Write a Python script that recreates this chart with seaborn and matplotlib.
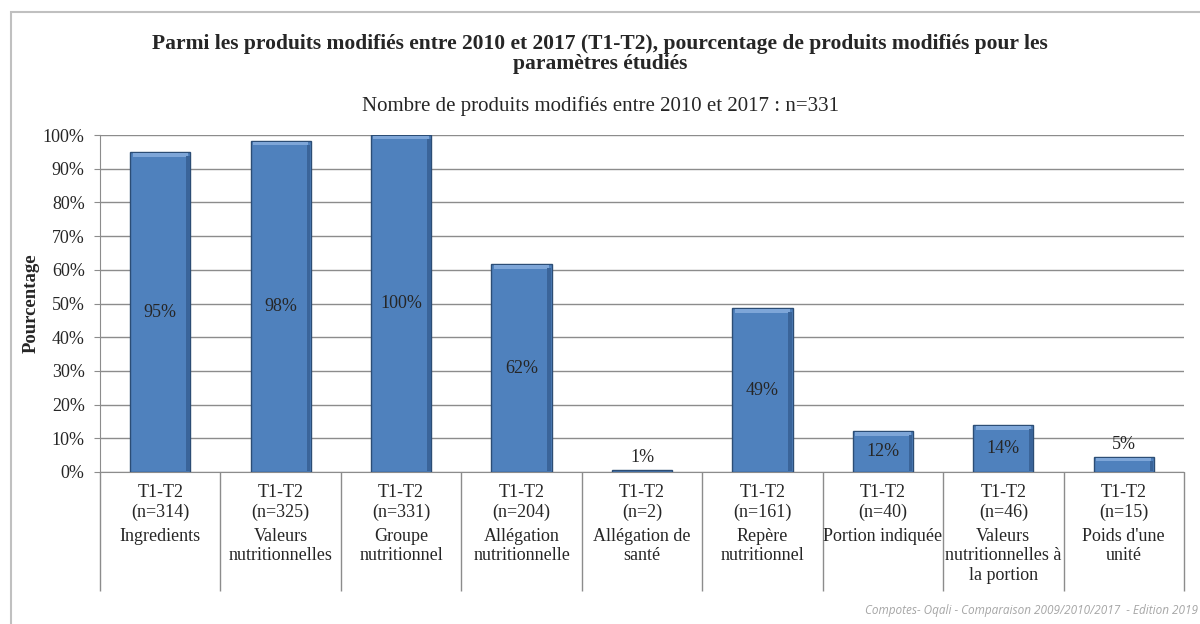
import numpy as np
import pandas as pd
import matplotlib
matplotlib.use('Agg')
import matplotlib.pyplot as plt
from matplotlib.patches import Rectangle
import seaborn as sns

# Data
categories = ['Ingredients', 'Valeurs\nnutritionnelles', 'Groupe\nnutritionnel',
              'Allégation\nnutritionnelle', 'Allégation de\nsanté', 'Repère\nnutritionnel',
              'Portion indiquée', 'Valeurs\nnutritionnelles à\nla portion', "Poids d'une\nunité"]
counts = [314, 325, 331, 204, 2, 161, 40, 46, 15]
pct = [94.9, 98.2, 100.0, 61.6, 0.6, 48.6, 12.1, 13.9, 4.5]
pct_labels = ['95%', '98%', '100%', '62%', '1%', '49%', '12%', '14%', '5%']

sns.set_style('white')
plt.rcParams['font.family'] = ['Liberation Serif', 'DejaVu Serif']

df = pd.DataFrame({'cat': categories, 'pct': pct})

fig = plt.figure(figsize=(12, 6.24), dpi=100)
ax = fig.add_axes([100 / 1200, 1 - 472 / 624, 1084 / 1200, 337 / 624])

# outer chart frame
fig.patches.append(Rectangle((11 / 1200, -0.01), 1.0, 1 - 12 / 624 + 0.01,
                             transform=fig.transFigure, fill=False,
                             edgecolor='#c0c0c0', linewidth=1.5))

sns.barplot(data=df, x='cat', y='pct', color='#4f81bd', width=0.5,
            edgecolor='#2c4d75', linewidth=1.0, saturation=1, ax=ax, zorder=3)

# bevel effect: light top band, darker right side
for p in ax.patches:
    h = p.get_height()
    x0, w = p.get_x(), p.get_width()
    if h > 1.5:
        ax.add_patch(Rectangle((x0 + 0.02, h - 1.3), w - 0.04, 1.1,
                               color='#7ea6d8', zorder=4, linewidth=0))
        ax.add_patch(Rectangle((x0 + w - 0.035, 0.3), 0.03, h - 1.5,
                               color='#3a6499', zorder=4, linewidth=0))

ax.set_ylim(0, 100)
ax.set_xlim(-0.5, len(categories) - 0.5)
ax.set_yticks(np.arange(0, 101, 10))
ax.set_yticklabels([f'{v}%' for v in range(0, 101, 10)], fontsize=13)
ax.yaxis.grid(True, color='#8c8c8c', linewidth=1, zorder=0)
ax.set_axisbelow(True)
for s in ['top', 'right']:
    ax.spines[s].set_visible(False)
for s in ['left', 'bottom']:
    ax.spines[s].set_color('#8c8c8c')
ax.tick_params(axis='y', length=4, color='#8c8c8c', left=True, pad=7)

# category separators as long minor ticks
ax.set_xticks([])
ax.set_xticks(np.arange(-0.5, len(categories), 1.0), minor=True)
ax.tick_params(axis='x', which='minor', length=86, color='#8c8c8c', width=1, bottom=True)
ax.set_xlabel('')
ax.set_ylabel('Pourcentage', fontsize=13.5, fontweight='bold')
ax.yaxis.set_label_coords(-0.056, 0.5)

trans = ax.get_xaxis_transform()
for i, (c, n) in enumerate(zip(categories, counts)):
    ax.text(i, -0.036, f'T1-T2\n(n={n})', transform=trans, ha='center', va='top',
            fontsize=13, linespacing=1.2)
    ax.text(i, -0.165, c, transform=trans, ha='center', va='top',
            fontsize=13, linespacing=1.2)

# value labels
for i, (v, lab) in enumerate(zip(pct, pct_labels)):
    if v >= 10:
        ax.text(i, v / 2, lab, ha='center', va='center', fontsize=13, zorder=5)
    else:
        ax.text(i, v + 1.2, lab, ha='center', va='bottom', fontsize=13, zorder=5)

fig.text(0.5, 0.913, 'Parmi les produits modifiés entre 2010 et 2017 (T1-T2), pourcentage de produits modifiés pour les\nparamètres étudiés',
         ha='center', va='center', fontsize=15.5, fontweight='bold', linespacing=1.0)
fig.text(0.5, 0.830, 'Nombre de produits modifiés entre 2010 et 2017 : n=331',
         ha='center', va='center', fontsize=15)
fig.text(1198 / 1200, 0.012, 'Compotes- Oqali - Comparaison 2009/2010/2017  - Edition 2019',
         ha='right', va='bottom', fontsize=8.5, style='italic', color='#a6a6a6',
         family=['Open Sans', 'DejaVu Sans'])

fig.savefig('out.png', dpi=100)
